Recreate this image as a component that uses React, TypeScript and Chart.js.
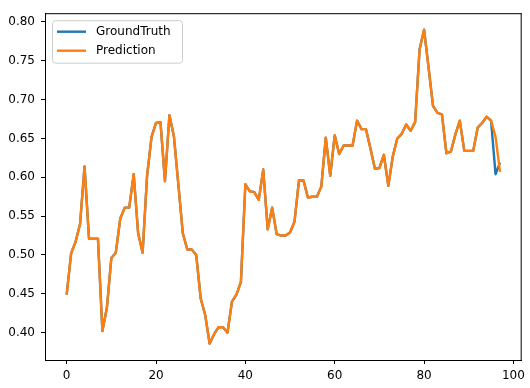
import React, { useEffect, useRef } from "react";
import { Chart, registerables } from "chart.js";

Chart.register(...registerables);

const prediction: number[] = [
  0.449, 0.502, 0.517, 0.540, 0.614, 0.521, 0.521, 0.521, 0.402, 0.432,
  0.496, 0.503, 0.547, 0.561, 0.561, 0.604, 0.528, 0.503, 0.602, 0.652,
  0.670, 0.671, 0.595, 0.680, 0.653, 0.591, 0.528, 0.507, 0.507, 0.500,
  0.444, 0.423, 0.386, 0.398, 0.407, 0.407, 0.400, 0.440, 0.449, 0.465,
  0.591, 0.582, 0.581, 0.571, 0.610, 0.533, 0.561, 0.527, 0.525, 0.525,
  0.529, 0.543, 0.596, 0.596, 0.574, 0.575, 0.575, 0.588, 0.651, 0.602,
  0.654, 0.630, 0.641, 0.641, 0.641, 0.673, 0.662, 0.662, 0.637, 0.611,
  0.612, 0.629, 0.589, 0.627, 0.650, 0.656, 0.668, 0.660, 0.671, 0.765,
  0.790, 0.742, 0.692, 0.683, 0.681, 0.631, 0.633, 0.655, 0.673, 0.634,
  0.634, 0.634, 0.664, 0.670, 0.678, 0.673, 0.652, 0.607,
];

const groundTruth: number[] = [
  0.449, 0.502, 0.517, 0.540, 0.614, 0.521, 0.521, 0.521, 0.402, 0.432,
  0.496, 0.503, 0.547, 0.561, 0.561, 0.604, 0.528, 0.503, 0.602, 0.652,
  0.670, 0.671, 0.595, 0.680, 0.653, 0.591, 0.528, 0.507, 0.507, 0.500,
  0.444, 0.423, 0.386, 0.398, 0.407, 0.407, 0.400, 0.440, 0.449, 0.465,
  0.591, 0.582, 0.581, 0.571, 0.610, 0.533, 0.561, 0.527, 0.525, 0.525,
  0.529, 0.543, 0.596, 0.596, 0.574, 0.575, 0.575, 0.588, 0.651, 0.602,
  0.654, 0.630, 0.641, 0.641, 0.641, 0.673, 0.662, 0.662, 0.637, 0.611,
  0.612, 0.629, 0.589, 0.627, 0.650, 0.656, 0.668, 0.660, 0.671, 0.765,
  0.790, 0.742, 0.692, 0.683, 0.681, 0.631, 0.633, 0.655, 0.673, 0.634,
  0.634, 0.634, 0.664, 0.670, 0.678, 0.673, 0.604, 0.619,
];

const xTicks: number[] = [0, 20, 40, 60, 80, 100];
const yTicks: number[] = [0.4, 0.45, 0.5, 0.55, 0.6, 0.65, 0.7, 0.75, 0.8];
const seriesLabels: string[] = ["GroundTruth", "Prediction"];
const seriesColors: string[] = ["#1f77b4", "#ff7f0e"];

const FONT = "DejaVu Sans";
const LINE_W = 2.4;

const framePlugin = {
  id: "frame",
  afterDraw(chart: any) {
    const { ctx, chartArea } = chart;
    const { left, right, top, bottom } = chartArea;
    ctx.save();
    ctx.strokeStyle = "#000";
    ctx.lineWidth = 1;
    ctx.beginPath();
    ctx.moveTo(left, top + 0.5);
    ctx.lineTo(right, top + 0.5);
    ctx.moveTo(right - 0.5, top);
    ctx.lineTo(right - 0.5, bottom);
    ctx.stroke();
    ctx.restore();
  },
};

const legendPlugin = {
  id: "mplLegend",
  afterDraw(chart: any) {
    const { ctx, chartArea } = chart;
    const x0 = chartArea.left + 7.5;
    const y0 = chartArea.top + 7.5;
    const w = 130;
    const h = 42.5;
    const r = 3;
    ctx.save();
    ctx.beginPath();
    ctx.moveTo(x0 + r, y0);
    ctx.lineTo(x0 + w - r, y0);
    ctx.arcTo(x0 + w, y0, x0 + w, y0 + r, r);
    ctx.lineTo(x0 + w, y0 + h - r);
    ctx.arcTo(x0 + w, y0 + h, x0 + w - r, y0 + h, r);
    ctx.lineTo(x0 + r, y0 + h);
    ctx.arcTo(x0, y0 + h, x0, y0 + h - r, r);
    ctx.lineTo(x0, y0 + r);
    ctx.arcTo(x0, y0, x0 + r, y0, r);
    ctx.closePath();
    ctx.fillStyle = "rgba(255,255,255,0.8)";
    ctx.fill();
    ctx.strokeStyle = "#cccccc";
    ctx.lineWidth = 1;
    ctx.stroke();
    ctx.font = `12px "${FONT}"`;
    ctx.textBaseline = "middle";
    ctx.textAlign = "left";
    chart.data.datasets.forEach((ds: any, i: number) => {
      const yy = y0 + 11 + i * 19;
      ctx.strokeStyle = ds.borderColor;
      ctx.lineWidth = LINE_W;
      ctx.beginPath();
      ctx.moveTo(x0 + 4.5, yy);
      ctx.lineTo(x0 + 33.5, yy);
      ctx.stroke();
      ctx.fillStyle = "#000";
      ctx.fillText(ds.label, x0 + 43.5, yy);
    });
    ctx.restore();
  },
};

export default function App() {
  const ref = useRef<HTMLCanvasElement | null>(null);

  useEffect(() => {
    document.body.style.margin = "0";
    const canvas = ref.current;
    if (!canvas) return;
    const series = [groundTruth, prediction];
    const chart = new Chart(canvas, {
      type: "line",
      data: {
        datasets: series.map((vals, k) => ({
          label: seriesLabels[k],
          data: vals.map((v, i) => ({ x: i, y: v })),
          borderColor: seriesColors[k],
          backgroundColor: seriesColors[k],
          borderWidth: LINE_W,
          pointRadius: 0,
          tension: 0,
          fill: false,
          borderJoinStyle: "round" as const,
          order: k === 0 ? 1 : 0,
        })),
      },
      options: {
        responsive: false,
        animation: false,
        layout: { padding: { left: 0, right: 8, top: 5, bottom: 0 } },
        plugins: {
          legend: { display: false },
          tooltip: { enabled: false },
        },
        scales: {
          x: {
            type: "linear",
            min: -4.85,
            max: 101.85,
            afterBuildTicks: (scale: any) => {
              scale.ticks = xTicks.map((v) => ({ value: v }));
            },
            afterFit: (scale: any) => {
              scale.height = 28;
            },
            ticks: {
              color: "#000",
              font: { family: FONT, size: 12 },
              padding: 5,
              maxRotation: 0,
              autoSkip: false,
              callback: (v: any) => String(v),
            },
            grid: {
              display: true,
              drawOnChartArea: false,
              drawTicks: true,
              tickLength: 4,
              color: "#000",
            },
            border: { display: true, color: "#000", width: 1 },
          },
          y: {
            type: "linear",
            min: 0.3648,
            max: 0.8113,
            afterBuildTicks: (scale: any) => {
              scale.ticks = yTicks.map((v) => ({ value: v }));
            },
            afterFit: (scale: any) => {
              scale.width = 45;
            },
            ticks: {
              color: "#000",
              font: { family: FONT, size: 12 },
              padding: 6,
              autoSkip: false,
              callback: (v: any) => Number(v).toFixed(2),
            },
            grid: {
              display: true,
              drawOnChartArea: false,
              drawTicks: true,
              tickLength: 4,
              color: "#000",
            },
            border: { display: true, color: "#000", width: 1 },
          },
        },
      },
      plugins: [framePlugin, legendPlugin],
    });
    return () => chart.destroy();
  }, []);

  return (
    <div style={{ width: 530, height: 388, background: "#fff" }}>
      <canvas ref={ref} width={530} height={388} style={{ display: "block" }} />
    </div>
  );
}
